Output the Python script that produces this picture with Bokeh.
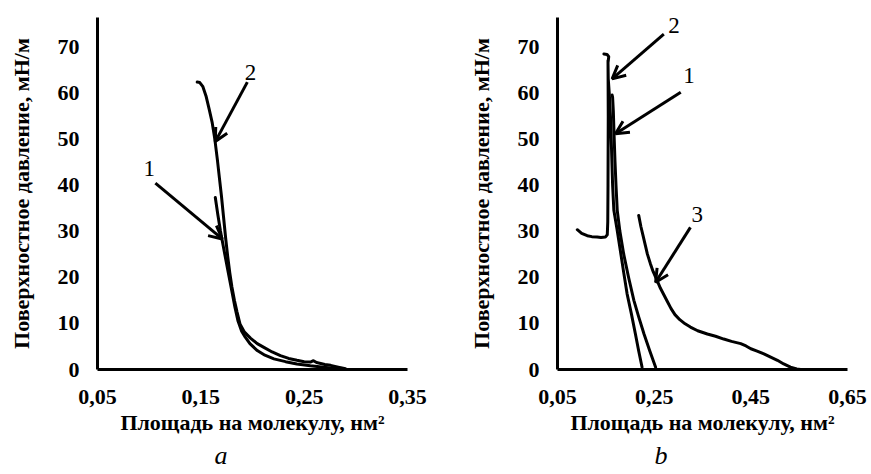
from bokeh.plotting import figure
from bokeh.layouts import row
from bokeh.models import (FixedTicker, CustomJSTickFormatter, Arrow, OpenHead,
                          Label, Range1d, Title)
from bokeh.embed import file_html
from bokeh.resources import INLINE

# ---------------- data: panel a ----------------
a1_x = [0.164, 0.1665, 0.169, 0.1715, 0.174, 0.177, 0.180, 0.183, 0.186, 0.1895, 0.193,
        0.1975, 0.2046, 0.212, 0.2207, 0.232, 0.243, 0.256, 0.269, 0.280, 0.288]
a1_y = [37.3, 33.5, 30.0, 27.0, 24.0, 20.5, 17.0, 13.5, 10.5, 8.3, 7.0,
        5.6, 4.1, 3.1, 2.3, 1.7, 1.2, 0.8, 0.5, 0.2, 0.0]

a2_x = [0.1465, 0.149, 0.152, 0.155, 0.158, 0.161, 0.1635, 0.166, 0.168, 0.170, 0.172,
        0.174, 0.176, 0.178, 0.180, 0.1825, 0.185, 0.188, 0.192, 0.198, 0.2046, 0.211,
        0.219, 0.227, 0.235, 0.243, 0.250, 0.256, 0.259, 0.262, 0.270, 0.2756, 0.283, 0.29]
a2_y = [62.3, 62.2, 61.3, 59.3, 56.5, 53.5, 50.0, 45.5, 41.5, 37.5, 33.0,
        28.5, 24.5, 21.0, 18.0, 15.0, 12.5, 9.8, 8.2, 6.8, 5.6, 4.8,
        3.8, 3.0, 2.4, 2.0, 1.7, 1.6, 1.9, 1.5, 1.1, 0.9, 0.5, 0.15]

# ---------------- data: panel b ----------------
b1_x = [0.253, 0.241, 0.229, 0.218, 0.208, 0.197, 0.187, 0.179, 0.1736, 0.171, 0.169,
        0.167, 0.1655, 0.164, 0.163]
b1_y = [0.5, 4.0, 7.7, 11.4, 15.0, 20.0, 25.0, 30.0, 34.5, 40.0, 45.0,
        51.0, 56.0, 59.0, 59.5]

b2_x = [0.225, 0.218, 0.211, 0.203, 0.194, 0.187, 0.180, 0.173, 0.1666, 0.164, 0.162, 0.160,
        0.157, 0.155, 0.1545, 0.156, 0.1525, 0.146,
        float("nan"),
        0.1545, 0.155, 0.1545, 0.154, 0.153, 0.149, 0.140, 0.132, 0.121, 0.1115, 0.100, 0.091]
b2_y = [0.5, 4.0, 7.8, 12.0, 16.4, 21.0, 25.8, 30.5, 34.5, 40.0, 47.0, 54.0,
        60.0, 63.0, 66.5, 67.8, 68.3, 68.4,
        float("nan"),
        67.0, 55.0, 40.0, 32.0, 29.2, 28.7, 28.6, 28.7, 28.8, 29.0, 29.5, 30.3]

b3_x = [0.218, 0.2225, 0.227, 0.232, 0.236, 0.242, 0.248, 0.256, 0.263, 0.270, 0.277,
        0.285, 0.293, 0.303, 0.314, 0.325, 0.340, 0.360, 0.377, 0.394, 0.410, 0.429,
        0.440, 0.450, 0.463, 0.477, 0.491, 0.505, 0.518, 0.532, 0.545, 0.553, 0.57]
b3_y = [33.4, 31.0, 29.0, 26.8, 25.0, 23.0, 21.2, 19.3, 17.6, 16.2, 14.8,
        13.2, 11.9, 10.8, 9.9, 9.2, 8.4, 7.7, 7.2, 6.6, 6.1, 5.6,
        5.1, 4.5, 4.0, 3.4, 2.7, 2.0, 1.2, 0.5, 0.1, 0.0, 0.0]

a_xticks = [0.05, 0.15, 0.25, 0.35]
b_xticks = [0.05, 0.25, 0.45, 0.65]
y_ticks = [0, 10, 20, 30, 40, 50, 60, 70]

x_title = "Площадь на молекулу, нм²"
y_title = "Поверхностное давление, мН/м"

# arrows: (x_start, y_start, x_end, y_end), labels: (text, x, y)
a_arrows = [(0.195, 62.3, 0.164, 49.4), (0.106, 40.4, 0.1707, 28.3)]
a_labels = [("2", 0.198, 64.4), ("1", 0.100, 43.5)]
b_arrows = [(0.270, 72.7, 0.163, 63.0), (0.305, 60.1, 0.170, 51.1), (0.325, 30.8, 0.253, 18.9)]
b_labels = [("2", 0.291, 74.6), ("1", 0.322, 63.7), ("3", 0.339, 33.7)]

FONT = "Liberation Serif"


def make_panel(width, left, right, xr, xticks, series, arrows, labels, caption, cap_offset):
    p = figure(width=width, height=474, output_backend="svg", toolbar_location=None,
               x_range=Range1d(*xr), y_range=Range1d(0, 76.3),
               min_border_left=left, min_border_right=right,
               min_border_top=17, min_border_bottom=105)
    p.outline_line_color = None
    p.xgrid.visible = False
    p.ygrid.visible = False
    p.background_fill_color = "white"
    for ax in (p.xaxis[0], p.yaxis[0]):
        ax.axis_line_width = 3
        ax.axis_line_color = "black"
        ax.major_tick_line_color = None
        ax.minor_tick_line_color = None
        ax.major_tick_out = 0
        ax.major_tick_in = 0
        ax.minor_tick_out = 0
        ax.major_label_text_font = FONT
        ax.major_label_text_font_style = "bold"
        ax.major_label_text_font_size = "22px"
        ax.major_label_text_color = "black"
        ax.axis_label_text_font = FONT
        ax.axis_label_text_font_style = "bold"
        ax.axis_label_text_font_size = "22px"
        ax.axis_label_text_color = "black"
    p.xaxis[0].ticker = FixedTicker(ticks=xticks)
    p.xaxis[0].formatter = CustomJSTickFormatter(code="return tick.toFixed(2).replace('.', ',');")
    p.xaxis[0].major_label_standoff = 20
    p.xaxis[0].axis_label = x_title
    p.xaxis[0].axis_label_standoff = 3
    p.yaxis[0].ticker = FixedTicker(ticks=y_ticks)
    p.yaxis[0].major_label_standoff = 18
    p.yaxis[0].axis_label = y_title
    p.yaxis[0].axis_label_standoff = 21

    for xs, ys in series:
        p.line(xs, ys, line_color="black", line_width=3, line_join="round", line_cap="round")
    for (x0, y0, x1, y1) in arrows:
        p.add_layout(Arrow(x_start=x0, y_start=y0, x_end=x1, y_end=y1,
                           line_width=3, line_color="black",
                           end=OpenHead(size=13, line_width=3, line_color="black")))
    for (t, x, y) in labels:
        p.add_layout(Label(x=x, y=y, text=t, text_font=FONT, text_font_size="23px",
                           text_align="center", text_baseline="middle", text_color="black"))
    p.add_layout(Title(text=caption, align="left", offset=cap_offset, text_font=FONT,
                       text_font_size="26px", text_font_style="italic", text_color="black",
                       standoff=2), "below")
    return p


p1 = make_panel(440, 97, 33, (0.05, 0.35), a_xticks,
                [(a1_x, a1_y), (a2_x, a2_y)], a_arrows, a_labels, "a", 117)
p2 = make_panel(431, 117, 24, (0.05, 0.65), b_xticks,
                [(b1_x, b1_y), (b2_x, b2_y), (b3_x, b3_y)], b_arrows, b_labels, "b", 97)

layout = row(p1, p2)
open("out.html", "w").write(file_html(layout, INLINE))
